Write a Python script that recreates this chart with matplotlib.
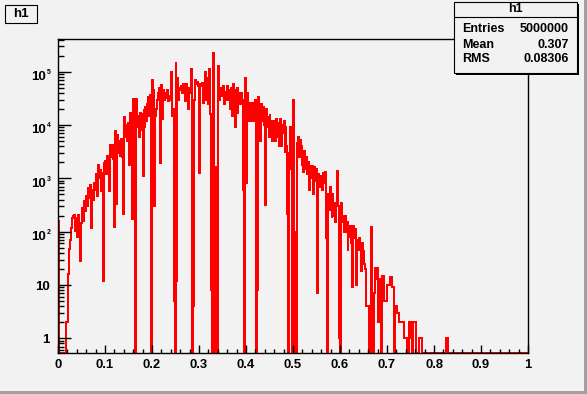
import numpy as np
import matplotlib
matplotlib.use("Agg")
import matplotlib.pyplot as plt
from matplotlib.patches import Rectangle
from matplotlib.transforms import ScaledTranslation

# ---------------- data (500 bins, 0..1) ----------------
x_min, x_max, n_bins = 0.0, 1.0, 500
counts = [
    160, 0, 0, 0, 0, 0, 0, 0, 0, 2,
    2, 16, 47, 71, 117, 180, 200, 206, 101, 180,
    81, 206, 88, 28, 145, 157, 277, 160, 370, 240,
    460, 300, 660, 420, 760, 117, 610, 400, 820, 600,
    1200, 700, 460, 1800, 1000, 1450, 570, 1260, 12, 1950,
    2100, 1200, 2600, 1400, 570, 4300, 2500, 4300, 2200, 4000,
    120, 7600, 330, 6500, 3000, 5000, 2600, 5500, 2500, 217,
    14000, 6000, 10000, 5000, 11000, 4000, 1800, 17000, 7000, 170,
    31000, 170, 0, 31000, 9000, 15000, 6000, 17000, 8000, 16000,
    1100, 20000, 9000, 22000, 12000, 25000, 34000, 15000, 36000, 0,
    70000, 45000, 300, 15000, 20000, 30000, 40000, 50000, 30000, 1950,
    57000, 13000, 46000, 30000, 40000, 32000, 46000, 28000, 35000, 30000,
    100000, 15000, 20000, 5, 0, 155000, 12, 76000, 30000, 50000,
    45000, 55000, 40000, 60000, 55000, 28000, 58000, 50000, 20000, 50000,
    40000, 50000, 110000, 0, 4, 30000, 70000, 60000, 65000, 55000,
    1270, 60000, 55000, 62000, 26000, 48000, 100000, 30000, 80000, 60000,
    25000, 110000, 16000, 8, 0, 220000, 0, 0, 1650, 0,
    130000, 30000, 50000, 35000, 45000, 38000, 55000, 25000, 42000, 30000,
    55000, 30000, 45000, 20000, 50000, 15000, 60000, 45000, 9000, 40000,
    50000, 16000, 40000, 40000, 25000, 40000, 30000, 600, 0, 76000,
    820, 40000, 26000, 12000, 26000, 24000, 12000, 26000, 22000, 12000,
    30000, 0, 8, 33000, 15000, 5000, 25000, 12000, 22000, 10000,
    320, 20000, 9000, 14000, 6000, 16000, 8000, 12000, 5000, 10000,
    12000, 5000, 13000, 6000, 11000, 4000, 13000, 4000, 10000, 7000,
    12000, 3000, 9000, 4000, 215, 0, 3000, 9000, 1500, 0,
    30000, 0, 100, 0, 4500, 6000, 2500, 5300, 2500, 4000,
    1800, 1300, 3200, 1500, 2500, 1200, 2000, 600, 1700, 1000,
    1700, 500, 1600, 900, 1500, 800, 7, 1200, 700, 1100,
    1000, 600, 1250, 800, 1300, 75, 0, 500, 250, 700,
    400, 180, 500, 200, 350, 150, 300, 1400, 300, 1,
    0, 350, 200, 150, 100, 200, 100, 150, 43, 90,
    80, 125, 60, 9, 130, 75, 110, 10, 70, 45,
    75, 50, 18, 60, 30, 45, 25, 20, 4, 4,
    4, 0, 0, 122, 0, 0, 7, 21, 13, 21,
    2, 13, 13, 2, 0, 15, 15, 5, 5, 5,
    10, 10, 10, 14, 14, 9, 9, 0, 4, 4,
    4, 3, 3, 2, 2, 2, 2, 2, 1, 1,
    1, 0, 0, 2, 2, 1, 1, 0, 2, 2,
    2, 0, 0, 0, 1, 1, 1, 0, 0, 0,
    0, 0, 0, 0, 0, 0, 0, 0, 0, 0,
    0, 0, 0, 0, 0, 0, 0, 0, 0, 0,
    0, 0, 0, 1, 1, 0, 0, 0, 0, 0,
    0, 0, 0, 0, 0, 0, 0, 0, 0, 0,
    0, 0, 0, 0, 0, 0, 0, 0, 0, 0,
    0, 0, 0, 0, 0, 0, 0, 0, 0, 0,
    0, 0, 0, 0, 0, 0, 0, 0, 0, 0,
    0, 0, 0, 0, 0, 0, 0, 0, 0, 0,
    0, 0, 0, 0, 0, 0, 0, 0, 0, 0,
    0, 0, 0, 0, 0, 0, 0, 0, 0, 0,
    0, 0, 0, 0, 0, 0, 0, 0, 0, 0,
]
title = "h1"
stats_labels = ["Entries", "Mean", "RMS"]
stats_values = ["5000000", "0.307", "0.08306"]
x_ticks = [0, 0.1, 0.2, 0.3, 0.4, 0.5, 0.6, 0.7, 0.8, 0.9, 1.0]
x_tick_labels = ["0", "0.1", "0.2", "0.3", "0.4", "0.5", "0.6", "0.7", "0.8", "0.9", "1"]
y_decades = [0, 1, 2, 3, 4, 5]
y_min, y_max = 0.53, 4.1e5

# ---------------- style ----------------
W, H = 587, 394
BG = "#f2f2f2"
FONT = "Liberation Sans"
plt.rcParams["font.family"] = [FONT, "DejaVu Sans"]

fig = plt.figure(figsize=(W / 100, H / 100), dpi=100, facecolor=BG)


def fx(px):
    return px / W


def fy(py):
    return 1 - py / H


# axes frame: x 58..528, y 39..353 (pixels from top-left)
ax = fig.add_axes([fx(58), fy(353), fx(470), 314 / H])
ax.set_facecolor(BG)

edges = np.linspace(x_min, x_max, n_bins + 1)
vals = np.array(counts, dtype=float)
draw_vals = np.where(vals > 0, vals, y_min)
ax.stairs(draw_vals, edges, color="#ff0000", linewidth=1.44, baseline=None,
          antialiased=False)

ax.set_yscale("log")
ax.set_xlim(x_min, x_max)
ax.set_ylim(y_min, y_max)

for s in ax.spines.values():
    s.set_linewidth(1.0)
    s.set_color("black")
    s.set_zorder(3)

# x ticks
ax.set_xticks(x_ticks)
ax.set_xticks(np.arange(0, 1.0001, 0.02), minor=True)
ax.tick_params(axis="x", which="major", direction="in", length=6.0, width=1.0,
               top=False, labelbottom=False)
ax.tick_params(axis="x", which="minor", direction="in", length=3.0, width=1.0, top=False)
# y ticks
ax.set_yticks([10.0 ** k for k in y_decades])
minor_y = [m * 10.0 ** k for k in range(-1, 6) for m in range(2, 10)]
minor_y = [v for v in minor_y if y_min <= v <= y_max]
ax.set_yticks(minor_y, minor=True)
ax.tick_params(axis="y", which="major", direction="in", length=9.5, width=1.0,
               right=False, labelleft=False)
ax.tick_params(axis="y", which="minor", direction="in", length=4.5, width=1.0, right=False)

px = 1 / 100.0  # one pixel in inches
# x tick labels
xtr = ax.get_xaxis_transform()
for xv, lab in zip(x_ticks, x_tick_labels):
    ax.text(xv, 0, lab, transform=xtr + ScaledTranslation(0, -15.3 * px, fig.dpi_scale_trans),
            ha="center", va="baseline", fontsize=9.4, fontweight="bold", family=FONT,
            clip_on=False)

# y tick labels
ytr = ax.get_yaxis_transform()
for k in y_decades:
    v = 10.0 ** k
    if k == 0:
        ax.text(0, v, "1", transform=ytr + ScaledTranslation(-8 * px, -5 * px, fig.dpi_scale_trans),
                ha="right", va="baseline", fontsize=9.5, fontweight="bold", family=FONT, clip_on=False)
    elif k == 1:
        ax.text(0, v, "10", transform=ytr + ScaledTranslation(-8 * px, -5 * px, fig.dpi_scale_trans),
                ha="right", va="baseline", fontsize=9.5, fontweight="bold", family=FONT, clip_on=False)
    else:
        ax.text(0, v, "10", transform=ytr + ScaledTranslation(-12 * px, -8.3 * px, fig.dpi_scale_trans),
                ha="right", va="baseline", fontsize=9.5, fontweight="bold", family=FONT, clip_on=False)
        ax.text(0, v, str(k), transform=ytr + ScaledTranslation(-11.3 * px, -2.3 * px, fig.dpi_scale_trans),
                ha="left", va="baseline", fontsize=5.0, fontweight="bold", family=FONT, clip_on=False)


def box(x0, y0, x1, y1, shadow=1.6):
    # shadow
    fig.add_artist(Rectangle((fx(x0 + shadow), fy(y1 + shadow)), fx(x1 - x0), (y1 - y0) / H,
                             transform=fig.transFigure, facecolor="black", edgecolor="none", zorder=5))
    fig.add_artist(Rectangle((fx(x0), fy(y1)), fx(x1 - x0), (y1 - y0) / H,
                             transform=fig.transFigure, facecolor=BG, edgecolor="black",
                             linewidth=0.8, zorder=6))


# title box
box(5, 5, 36.5, 22.5)
fig.text(fx(20.8), fy(13.9), title, ha="center", va="center", fontsize=9.6,
         fontweight="bold", family=FONT, zorder=7)

# stats box
box(454, 2, 577, 73)
fig.add_artist(plt.Line2D([fx(454), fx(577)], [fy(16.7), fy(16.7)], transform=fig.transFigure,
                          color="black", linewidth=0.8, zorder=7))
fig.text(fx(515), fy(9.5), title, ha="center", va="center", fontsize=9.0,
         fontweight="bold", family=FONT, zorder=7)
for i, (lab, val) in enumerate(zip(stats_labels, stats_values)):
    yb = 32.5 + 15 * i
    fig.text(fx(462.5), fy(yb), lab, ha="left", va="baseline", fontsize=9.0,
             fontweight="bold", family=FONT, zorder=7)
    fig.text(fx(568.5), fy(yb), val, ha="right", va="baseline", fontsize=9.0,
             fontweight="bold", family=FONT, zorder=7)

# canvas bevel (right / bottom darker)
fig.add_artist(Rectangle((fx(584), 0), fx(3), 1, transform=fig.transFigure,
                         facecolor="#a0a0a0", edgecolor="none", zorder=10))
fig.add_artist(Rectangle((0, 0), 1, 3 / H, transform=fig.transFigure,
                         facecolor="#a0a0a0", edgecolor="none", zorder=10))

fig.savefig("out.png", dpi=100, facecolor=BG)
